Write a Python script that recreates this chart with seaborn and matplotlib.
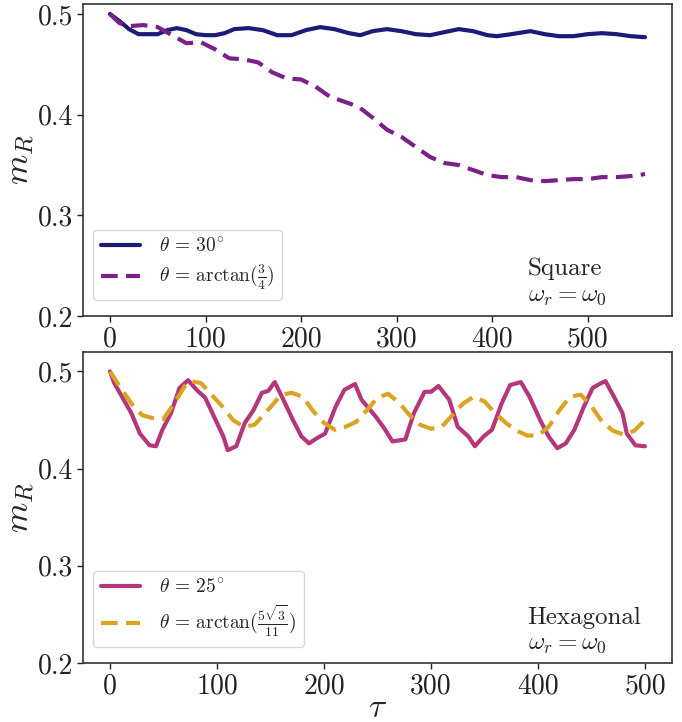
import numpy as np
import pandas as pd
import matplotlib
matplotlib.use("Agg")
import matplotlib.pyplot as plt
import seaborn as sns

# ---- Square lattice data ----
sq30_tau = [0, 10, 20, 30, 40, 50, 60, 70, 80, 90, 100, 110, 120, 130, 145, 160, 175, 190,
            205, 220, 235, 250, 262, 275, 290, 305, 320, 335, 350, 365, 380, 395, 405, 420,
            440, 455, 470, 485, 500, 515, 530, 545, 560]
sq30_m = [0.500, 0.493, 0.485, 0.480, 0.480, 0.480, 0.484, 0.486, 0.484, 0.480, 0.479, 0.479,
          0.481, 0.485, 0.486, 0.484, 0.479, 0.479, 0.484, 0.487, 0.485, 0.481, 0.479, 0.483,
          0.485, 0.483, 0.480, 0.479, 0.482, 0.485, 0.483, 0.479, 0.478, 0.480, 0.483, 0.480,
          0.478, 0.478, 0.480, 0.481, 0.480, 0.478, 0.477]

sqarc_tau = [0, 10, 20, 35, 50, 65, 80, 95, 110, 125, 140, 155, 170, 185, 200, 215, 230, 245,
             260, 275, 290, 305, 320, 335, 350, 365, 380, 395, 410, 425, 440, 455, 470, 485,
             500, 515, 530, 545, 560]
sqarc_m = [0.500, 0.491, 0.488, 0.489, 0.487, 0.479, 0.471, 0.472, 0.465, 0.456, 0.455, 0.452,
           0.442, 0.436, 0.435, 0.428, 0.418, 0.413, 0.408, 0.397, 0.385, 0.378, 0.368, 0.358,
           0.352, 0.350, 0.345, 0.340, 0.338, 0.338, 0.335, 0.334, 0.335, 0.336, 0.336, 0.338,
           0.338, 0.339, 0.341]

# ---- Hexagonal lattice data ----
hx25_tau = [0, 4, 20, 28, 37, 43, 49, 57, 65, 73, 81, 89, 97, 106, 110, 118, 126, 134, 142,
            148, 154, 162, 171, 179, 186, 193, 201, 211, 219, 229, 235, 248, 256, 264, 276,
            284, 294, 300, 307, 317, 325, 335, 341, 349, 357, 366, 374, 384, 392, 402, 410,
            418, 426, 434, 443, 451, 459, 463, 471, 479, 483, 491, 500]
hx25_m = [0.500, 0.488, 0.457, 0.436, 0.424, 0.423, 0.440, 0.457, 0.483, 0.491, 0.481, 0.473,
          0.454, 0.433, 0.419, 0.423, 0.447, 0.460, 0.478, 0.480, 0.489, 0.471, 0.450, 0.433,
          0.426, 0.431, 0.436, 0.464, 0.481, 0.487, 0.471, 0.454, 0.442, 0.428, 0.430, 0.457,
          0.479, 0.479, 0.485, 0.471, 0.443, 0.433, 0.423, 0.433, 0.440, 0.467, 0.486, 0.489,
          0.474, 0.450, 0.433, 0.421, 0.426, 0.440, 0.464, 0.483, 0.488, 0.490, 0.474, 0.457,
          0.436, 0.424, 0.423]

hxarc_tau = [0, 10, 20, 30, 40, 50, 60, 70, 75, 85, 95, 105, 115, 125, 135, 145, 160, 170,
             180, 190, 200, 210, 220, 230, 240, 250, 260, 270, 280, 290, 300, 310, 320, 330,
             340, 350, 360, 370, 380, 390, 400, 410, 420, 430, 440, 450, 460, 470, 480, 490, 500]
hxarc_m = [0.500, 0.483, 0.467, 0.455, 0.452, 0.451, 0.467, 0.485, 0.490, 0.488, 0.476, 0.464,
           0.450, 0.443, 0.445, 0.457, 0.476, 0.478, 0.474, 0.459, 0.447, 0.440, 0.443, 0.448,
           0.460, 0.473, 0.477, 0.468, 0.455, 0.445, 0.441, 0.443, 0.455, 0.467, 0.474, 0.469,
           0.457, 0.447, 0.439, 0.434, 0.434, 0.443, 0.460, 0.474, 0.476, 0.464, 0.448, 0.439,
           0.435, 0.439, 0.450]

lab_sq30 = r'$\theta\,=\,30^{\circ}$'
lab_sqarc = r'$\theta\,=\,\mathrm{arctan}(\frac{3}{4})$'
lab_hx25 = r'$\theta\,=\,25^{\circ}$'
lab_hxarc = r'$\theta\,=\,\mathrm{arctan}(\frac{5\sqrt{3}}{11})$'

sns.set_style("ticks")
plt.rcParams.update({
    "font.family": ["serif"],
    "font.serif": ["cmr10", "DejaVu Serif"],
    "mathtext.fontset": "cm",
    "axes.formatter.use_mathtext": True,
    "axes.unicode_minus": False,
})

df_sq = pd.concat([
    pd.DataFrame({"tau": sq30_tau, "m": sq30_m, "case": lab_sq30}),
    pd.DataFrame({"tau": sqarc_tau, "m": sqarc_m, "case": lab_sqarc}),
])
df_hx = pd.concat([
    pd.DataFrame({"tau": hx25_tau, "m": hx25_m, "case": lab_hx25}),
    pd.DataFrame({"tau": hxarc_tau, "m": hxarc_m, "case": lab_hxarc}),
])

fig = plt.figure(figsize=(6.82, 7.22), dpi=100)
ax1 = fig.add_axes([0.122, 0.5623, 0.863, 0.4322])
ax2 = fig.add_axes([0.122, 0.0817, 0.863, 0.4308])

lw = 3.0
sns.lineplot(data=df_sq, x="tau", y="m", hue="case", style="case",
             palette={lab_sq30: "#1c1c78", lab_sqarc: "#7a2088"},
             dashes={lab_sq30: "", lab_sqarc: (4, 2)},
             linewidth=lw, ax=ax1, sort=False)
sns.lineplot(data=df_hx, x="tau", y="m", hue="case", style="case",
             palette={lab_hx25: "#b6367c", lab_hxarc: "#dba322"},
             dashes={lab_hx25: "", lab_hxarc: (4, 2)},
             linewidth=lw, ax=ax2, sort=False)

ax1.set_ylim(0.2, 0.51)
ax2.set_ylim(0.2, 0.52)
for ax in (ax1, ax2):
    ax.set_yticks([0.2, 0.3, 0.4, 0.5])
    ax.set_yticklabels(["0.2", "0.3", "0.4", "0.5"])
    ax.tick_params(labelsize=20, length=4, width=1, colors="#222222")
    ax.set_ylabel(r'$m_R$', fontsize=25)
    ax.yaxis.set_label_coords(-0.078, 0.5)
    for s in ax.spines.values():
        s.set_visible(True)
        s.set_color("#333333")
        s.set_linewidth(1.2)
    leg = ax.legend(loc="lower left", fontsize=14, frameon=True, fancybox=True,
                    handlelength=2.0, borderpad=0.4, labelspacing=0.35,
                    handletextpad=1.0, borderaxespad=0.5,
                    bbox_to_anchor=(0.0, 0.02))
    leg.get_frame().set_edgecolor("#cccccc")
    for h in leg.get_lines():
        h.set_linewidth(3)

ax1.set_xticks([0, 100, 200, 300, 400, 500])
ax1.set_xticklabels(["0", "100", "200", "300", "400", "500"])
ax2.set_xticks([0, 100, 200, 300, 400, 500])
ax2.set_xticklabels(["0", "100", "200", "300", "400", "500"])
ax1.set_xlabel("")
ax2.set_xlabel(r'$\tau$', fontsize=24, labelpad=-4)

ax1.text(0.755, 0.13, "Square", transform=ax1.transAxes, fontsize=18)
ax1.text(0.755, 0.05, r'$\omega_r = \omega_0$', transform=ax1.transAxes, fontsize=18)
ax2.text(0.755, 0.125, "Hexagonal", transform=ax2.transAxes, fontsize=18)
ax2.text(0.755, 0.045, r'$\omega_r = \omega_0$', transform=ax2.transAxes, fontsize=18)

fig.savefig("out.png", dpi=100)
